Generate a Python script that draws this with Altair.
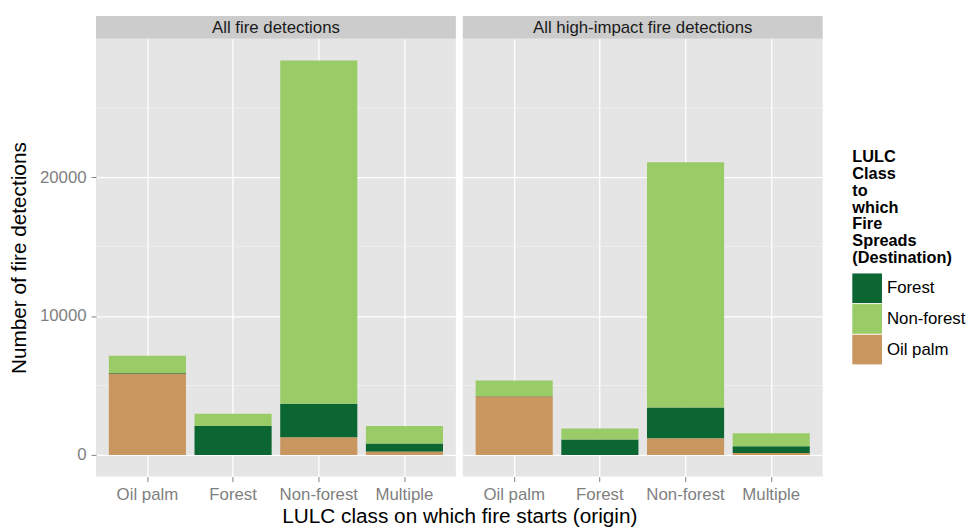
import altair as alt
import pandas as pd

panels = ["All fire detections", "All high-impact fire detections"]
origins = ["Oil palm", "Forest", "Non-forest", "Multiple"]
dests = ["Forest", "Non-forest", "Oil palm"]
dest_colors = ["#0B6632", "#99CC66", "#C9965F"]
stack_rank = [1, 2, 0]  # Oil palm at bottom, then Forest, then Non-forest

# counts per origin class, by destination class
all_forest = [60, 2090, 2420, 595]
all_nonforest = [1240, 880, 24720, 1260]
all_oilpalm = [5840, 0, 1260, 235]

hi_forest = [50, 1120, 2230, 480]
hi_nonforest = [1110, 780, 17650, 950]
hi_oilpalm = [4200, 0, 1190, 140]

major_y = [0, 10000, 20000]
minor_y = [5000, 15000, 25000]
y_domain = [-1560, 29970]

legend_title = ["LULC", "Class", "to", "which", "Fire", "Spreads", "(Destination)"]
x_title = "LULC class on which fire starts (origin)"
y_title = "Number of fire detections"

series = {
    panels[0]: [all_forest, all_nonforest, all_oilpalm],
    panels[1]: [hi_forest, hi_nonforest, hi_oilpalm],
}
rows = []
for p in panels:
    for di, d in enumerate(dests):
        for oi, o in enumerate(origins):
            rows.append({"panel": p, "origin": o, "dest": d,
                         "value": series[p][di][oi], "rank": stack_rank[di]})
df = pd.DataFrame(rows)

W, H = 364, 443
GAP = 7
FONT = "Liberation Sans"


def make_panel(name, first):
    d = df[df.panel == name]
    yscale = alt.Scale(domain=y_domain, nice=False, zero=False)
    xscale = alt.Scale(domain=origins, paddingInner=0.1, paddingOuter=0.15)
    if first:
        yaxis = alt.Axis(values=major_y, format="d", title=y_title, grid=True,
                         titlePadding=10)
        xaxis = alt.Axis(title=x_title, labelAngle=0, grid=True, bandPosition=0.5,
                         titleX=(2 * W + GAP) / 2, titlePadding=3)
    else:
        yaxis = alt.Axis(values=major_y, grid=True, labels=False, ticks=False,
                         title=None)
        xaxis = alt.Axis(title=None, labelAngle=0, grid=True, bandPosition=0.5)

    minor = alt.Chart(pd.DataFrame({"value": minor_y})).mark_rule(
        color="#F2F2F2", strokeWidth=0.7
    ).encode(y=alt.Y("value:Q", scale=yscale, axis=yaxis))

    bars = alt.Chart(d).mark_bar(opacity=1).encode(
        x=alt.X("origin:N", sort=origins, scale=xscale, axis=xaxis),
        y=alt.Y("value:Q", stack="zero", scale=yscale, axis=yaxis),
        color=alt.Color("dest:N", scale=alt.Scale(domain=dests, range=dest_colors),
                        legend=alt.Legend(title=legend_title, orient="none",
                                          legendX=765, legendY=112)),
        order=alt.Order("rank:Q", sort="ascending"),
    )

    sd = pd.DataFrame({"panel": [name]})
    strip = alt.Chart(sd).mark_rect(color="#CCCCCC").encode(
        x=alt.value(0), x2=alt.value(W), y=alt.value(-23), y2=alt.value(0)
    )
    stext = alt.Chart(sd).mark_text(font=FONT, fontSize=17, color="#1A1A1A",
                                    baseline="middle").encode(
        x=alt.value(W / 2), y=alt.value(-11), text="panel:N"
    )
    return alt.layer(minor, bars, strip, stext).properties(width=W, height=H)


chart = alt.hconcat(
    make_panel(panels[0], True), make_panel(panels[1], False),
    spacing=GAP, bounds="flush"
).properties(
    padding={"left": 0, "top": 5, "right": 0, "bottom": 0}
).configure_view(fill="#E5E5E5", strokeWidth=0).configure_axis(
    domain=False, gridColor="#FFFFFF", gridWidth=1.3, tickColor="#7F7F7F",
    tickSize=5, labelColor="#7F7F7F", labelFont=FONT, labelFontSize=17,
    titleFont=FONT, titleFontSize=21, titleFontWeight="normal", titleColor="#000000",
    labelPadding=5
).configure_legend(
    titleFont=FONT, titleFontSize=16.5, titleFontWeight="bold", titleColor="#000000",
    titleLineHeight=17, labelFont=FONT, labelFontSize=17, labelColor="#000000",
    symbolType="square", symbolSize=900, symbolStrokeWidth=0, symbolOpacity=1,
    rowPadding=1, titlePadding=7, labelOffset=5, padding=0
)

chart.save("out.html", embed_options={"renderer": "svg", "actions": False})
